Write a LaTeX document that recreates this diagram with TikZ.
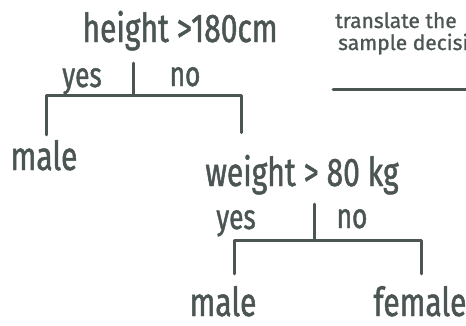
\documentclass[tikz,border=0pt]{standalone}
\usepackage{fontspec}
\usepackage{tikz}
\newfontfamily\handfont[FakeStretch=0.75,FakeBold=1.2]{Fira Sans}
\newfontfamily\notefont[FakeBold=1]{Fira Sans}
\definecolor{ink}{HTML}{4B5553}

\begin{document}
\begin{tikzpicture}[x=1pt,y=-1pt,
    question/.style={text=ink,inner sep=0pt,anchor=base,
                     font=\handfont\fontsize{40}{40}\selectfont},
    answer/.style={question,font=\handfont\fontsize{35}{35}\selectfont},
    note/.style={text=ink,inner sep=0pt,anchor=base west,
                 font=\notefont\fontsize{21}{21}\selectfont},
    branch/.style={draw=ink,line width=3pt,line cap=round,line join=round}]

                              % Frame
                              \useasboundingbox (0,0) rectangle (466,325);
                              \clip (0,0) rectangle (466,325);

                              % First split
                              \node[question] (q1) at (180,42) {height >180cm};
                              \node[answer] (y1) at (82,87) {yes};
                              \node[answer] (n1) at (185,86) {no};
                              \node[question] (m1) at (44,170) {male};
                              \coordinate (t1) at (133,63);
                              \coordinate (j1) at (133,95);
                              \coordinate (l1) at (46,95);
                              \coordinate (r1) at (241,95);

                              % Second split
                              \node[question] (q2) at (302,186) {weight > 80 kg};
                              \node[answer] (y2) at (236,229) {yes};
                              \node[answer] (n2) at (352,228) {no};
                              \node[question] (m2) at (223,316) {male};
                              \node[question] (f2) at (420,316) {female};
                              \coordinate (t2) at (314,204);
                              \coordinate (j2) at (314,240);
                              \coordinate (l2) at (234,240);
                              \coordinate (r2) at (421,240);

                              % Branches
                              \draw[branch] (t1) -- (j1);
                              \draw[branch] ([yshift=5pt]l1 |- m1.north) -- (l1) -- (r1)
                              -- ([yshift=22pt]r1 |- q2.north);
                              \draw[branch] (t2) -- (j2);
                              \draw[branch] ([yshift=12pt]l2 |- m2.north) -- (l2) -- (r2)
                              -- ([yshift=12pt]r2 |- f2.north);

                              % Side note
                              \node[note] (s1) at (335,28) {translate the};
                              \node[note] (s2) at (338,50) {sample decision};
                              \draw[branch] (333,89) -- (470,89);
\end{tikzpicture}
\end{document}
